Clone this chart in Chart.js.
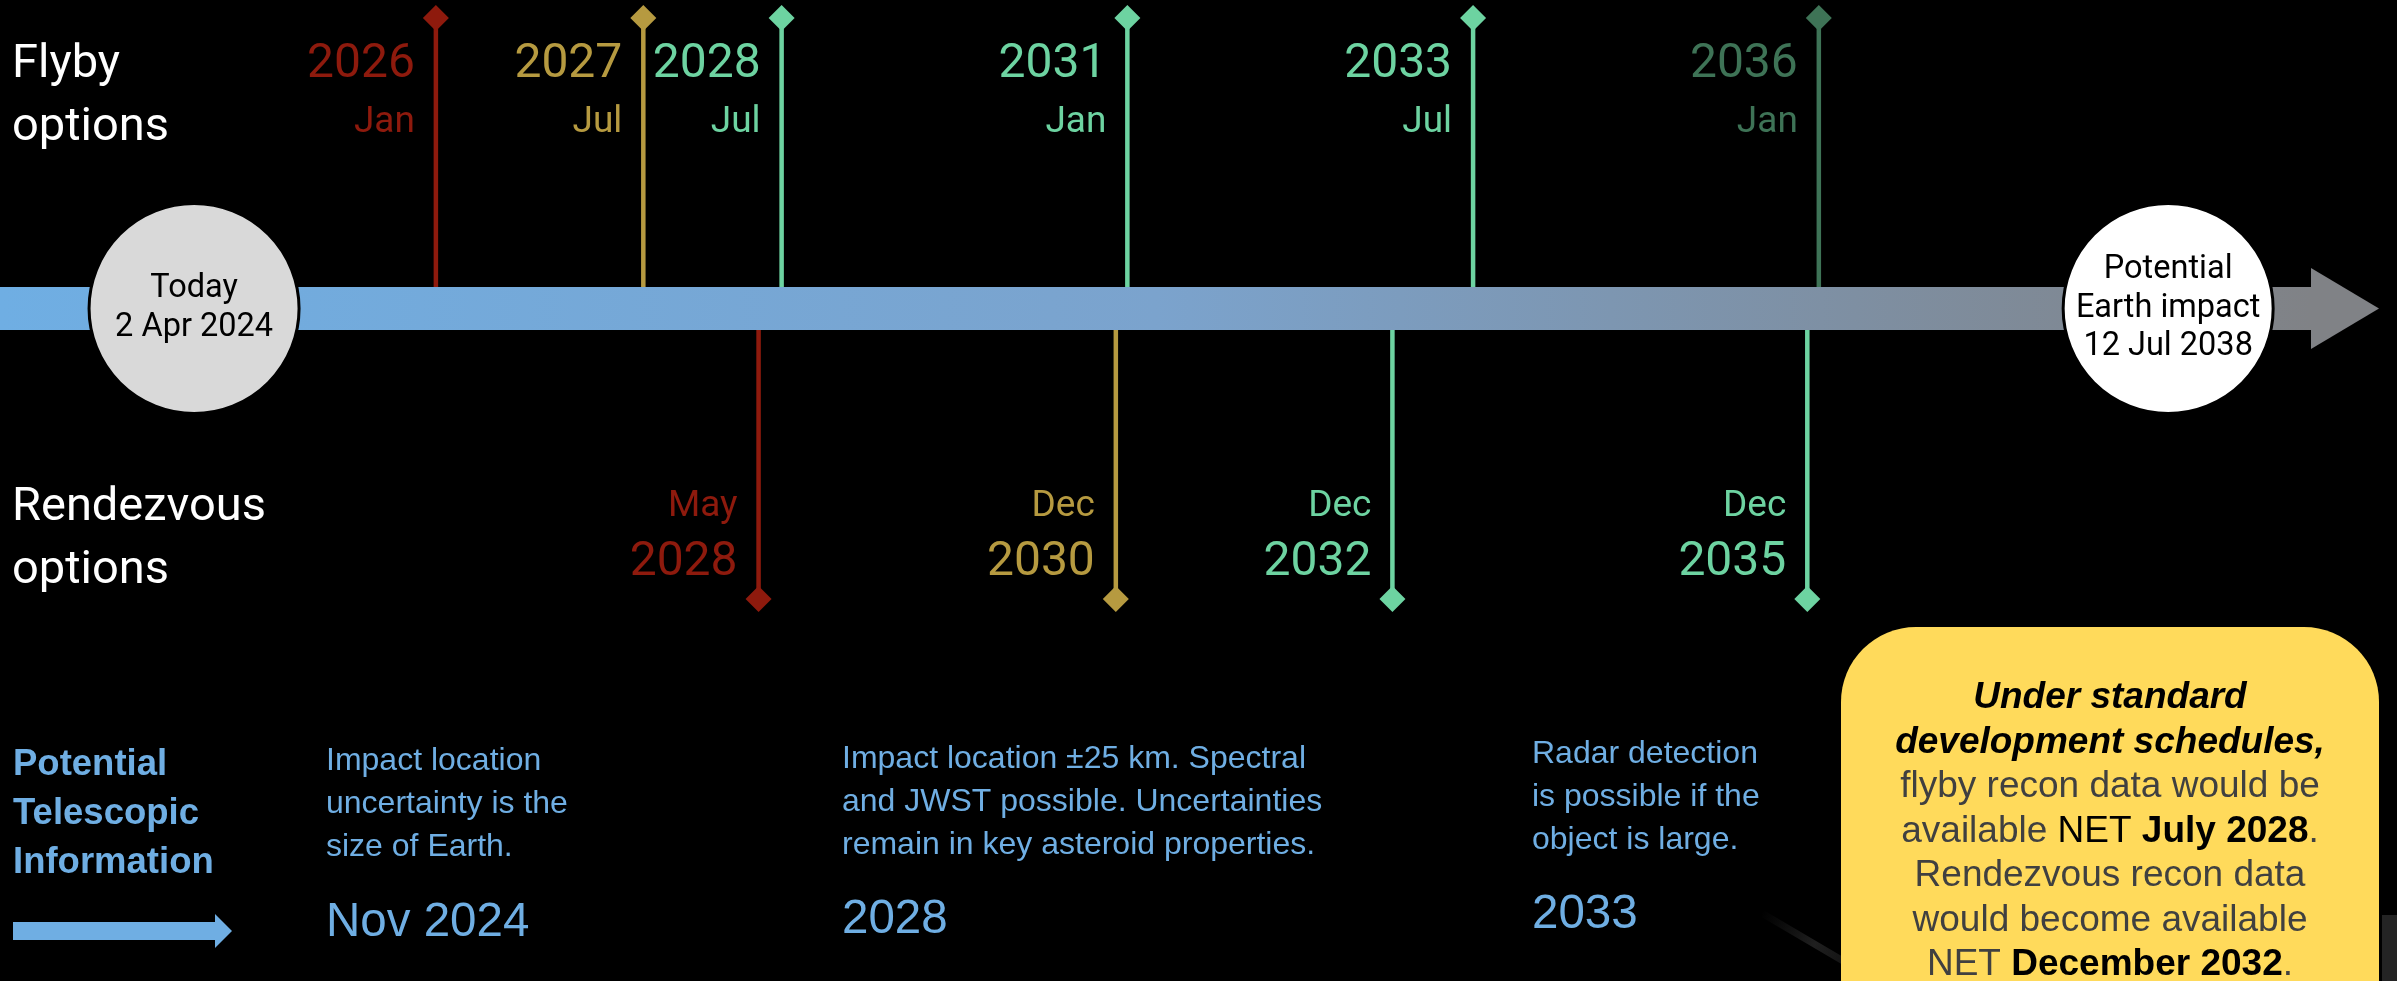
<!DOCTYPE html>
<html>
<head>
<meta charset="utf-8">
<title>Flyby and rendezvous options</title>
<script src="https://cdn.jsdelivr.net/npm/chart.js@4.4.1/dist/chart.umd.min.js"></script>
<style>
  html, body { margin: 0; padding: 0; background: #000; overflow: hidden; }
  #wrap { position: relative; width: 2397px; height: 981px; }
</style>
</head>
<body>
<div id="wrap"><canvas id="timeline"></canvas></div>
<script>
const MONTHS = ['Jan', 'Feb', 'Mar', 'Apr', 'May', 'Jun', 'Jul', 'Aug', 'Sep', 'Oct', 'Nov', 'Dec'];

// flyby launch windows (above the line)
const flybyYears  = [2026, 2027, 2028, 2031, 2033, 2036];
const flybyMonths = ['Jan', 'Jul', 'Jul', 'Jan', 'Jul', 'Jan'];

// rendezvous launch windows (below the line)
const rendezvousYears  = [2028, 2030, 2032, 2035];
const rendezvousMonths = ['May', 'Dec', 'Dec', 'Dec'];

// both ends of the timeline
const milestoneDates  = ['2024-04-02', '2038-07-12'];
const milestoneLabels = [['Today', '2 Apr 2024'], ['Potential', 'Earth impact', '12 Jul 2038']];

// telescope notes along the bottom
const infoTitle = ['Potential', 'Telescopic', 'Information'];
const infoDates = ['Nov 2024', '2028', '2033'];
const infoNotes = [
  ['Impact location', 'uncertainty is the', 'size of Earth.'],
  ['Impact location \u00b125 km. Spectral', 'and JWST possible. Uncertainties', 'remain in key asteroid properties.'],
  ['Radar detection', 'is possible if the', 'object is large.']
];

// colours
const RED = '#8E1A0D', GOLD = '#B69A40', MINT = '#6DD3A1', PINE = '#3E7356';
const BLUE = '#6FAEE3';
const flybyColors = [RED, GOLD, MINT, MINT, MINT, PINE];
const rendezvousColors = [RED, GOLD, MINT, MINT];

function monthToYear(year, mon) {
  return year + MONTHS.indexOf(mon) / 12;
}
function dateToYear(iso) {
  const d = new Date(iso + 'T00:00:00Z');
  const y = d.getUTCFullYear();
  const start = Date.UTC(y, 0, 1), end = Date.UTC(y + 1, 0, 1);
  return y + (d.getTime() - start) / (end - start);
}

// one stem + diamond per launch window, dir = 1 above, -1 below
function stem(year, mon, dir, color) {
  return {
    data: [{x: monthToYear(year, mon), y: 0}, {x: monthToYear(year, mon), y: dir}],
    borderColor: color,
    backgroundColor: color,
    borderWidth: 4.5,
    pointStyle: 'rectRot',
    pointRadius: [0, 13],
    pointHoverRadius: [0, 13],
    pointBorderWidth: 0,
    clip: false,
    eventYear: String(year),
    eventMonth: mon,
    dir: dir
  };
}

const datasets = [];
flybyYears.forEach((y, i) => datasets.push(stem(y, flybyMonths[i], 1, flybyColors[i])));
rendezvousYears.forEach((y, i) => datasets.push(stem(y, rendezvousMonths[i], -1, rendezvousColors[i])));

function drawRuns(ctx, runs, cx, y) {
  let total = 0;
  runs.forEach(r => { ctx.font = r.font; total += ctx.measureText(r.text).width; });
  let x = cx - total / 2;
  ctx.textAlign = 'left';
  runs.forEach(r => {
    ctx.font = r.font;
    ctx.fillStyle = r.color;
    ctx.fillText(r.text, x, y);
    x += ctx.measureText(r.text).width;
  });
}

const timelinePlugin = {
  id: 'timeline',
  beforeDatasetsDraw(chart) {
    const ctx = chart.ctx;
    ctx.save();
    // faint streak from the background artwork
    const g = ctx.createLinearGradient(1760, 915, 1850, 965);
    g.addColorStop(0, 'rgba(60,60,60,0)');
    g.addColorStop(0.6, 'rgba(70,70,70,0.45)');
    g.addColorStop(1, 'rgba(60,60,60,0.3)');
    ctx.strokeStyle = g;
    ctx.lineWidth = 7;
    ctx.lineCap = 'round';
    ctx.beginPath();
    ctx.moveTo(1765, 915);
    ctx.lineTo(1850, 965);
    ctx.stroke();
    ctx.fillStyle = 'rgba(45,45,45,0.8)';
    ctx.fillRect(2382, 915, 15, 66);
    ctx.restore();
  },
  afterDatasetsDraw(chart) {
    const ctx = chart.ctx;
    const xs = chart.scales.x, ys = chart.scales.y;
    const yc = ys.getPixelForValue(0);
    const half = 21.5;
    const tip = chart.width - 18, base = tip - 68;

    ctx.save();
    // main bar with arrow head
    const grad = ctx.createLinearGradient(0, 0, base, 0);
    grad.addColorStop(0, BLUE);
    grad.addColorStop(0.5, '#7BA3CD');
    grad.addColorStop(1, '#808286');
    ctx.fillStyle = grad;
    ctx.fillRect(0, yc - half, base + 1, half * 2);
    ctx.fillStyle = '#808286';
    ctx.beginPath();
    ctx.moveTo(base, yc - 40.5);
    ctx.lineTo(tip, yc);
    ctx.lineTo(base, yc + 40.5);
    ctx.closePath();
    ctx.fill();

    // milestone circles
    const fills = ['#D9D9D9', '#FFFFFF'];
    milestoneDates.forEach((d, i) => {
      const cx = xs.getPixelForValue(dateToYear(d));
      ctx.beginPath();
      ctx.arc(cx, yc, 105, 0, Math.PI * 2);
      ctx.fillStyle = fills[i];
      ctx.fill();
      ctx.lineWidth = 3;
      ctx.strokeStyle = '#000';
      ctx.stroke();
      const lines = milestoneLabels[i];
      const step = 38.5;
      ctx.fillStyle = '#000';
      ctx.font = '32.5px Roboto';
      ctx.textAlign = 'center';
      ctx.textBaseline = 'middle';
      lines.forEach((t, k) => {
        ctx.fillText(t, cx, yc + (k - (lines.length - 1) / 2) * step);
      });
    });
    ctx.restore();
  },
  afterDraw(chart) {
    const ctx = chart.ctx;
    ctx.save();
    ctx.textBaseline = 'alphabetic';

    // stem labels
    chart.data.datasets.forEach((ds, i) => {
      const pt = chart.getDatasetMeta(i).data[1];
      const x = pt.x - 21;
      ctx.fillStyle = ds.borderColor;
      ctx.textAlign = 'right';
      if (ds.dir > 0) {
        ctx.font = '48px Roboto';
        ctx.fillText(ds.eventYear, x, pt.y + 59);
        ctx.font = '37px Roboto';
        ctx.fillText(ds.eventMonth, x, pt.y + 114);
      } else {
        ctx.font = '37px Roboto';
        ctx.fillText(ds.eventMonth, x, pt.y - 83);
        ctx.font = '48px Roboto';
        ctx.fillText(ds.eventYear, x, pt.y - 24);
      }
    });

    // row titles
    ctx.textAlign = 'left';
    ctx.fillStyle = '#FFFFFF';
    ctx.font = '47px Roboto';
    ctx.fillText('Flyby', 12, 77);
    ctx.fillText('options', 12, 140);
    ctx.fillText('Rendezvous', 12, 520);
    ctx.fillText('options', 12, 583);

    // telescope information
    ctx.fillStyle = BLUE;
    ctx.font = 'bold 36.5px "Liberation Sans", Arial, sans-serif';
    infoTitle.forEach((t, k) => ctx.fillText(t, 13, 775 + k * 49));
    ctx.beginPath();
    ctx.moveTo(13, 922);
    ctx.lineTo(215, 922);
    ctx.lineTo(215, 914);
    ctx.lineTo(232, 931);
    ctx.lineTo(215, 948);
    ctx.lineTo(215, 940);
    ctx.lineTo(13, 940);
    ctx.closePath();
    ctx.fill();

    const colX = [326, 842, 1532];
    const colTop = [770, 768, 763];
    const dateBase = [936, 933, 928];
    infoNotes.forEach((lines, c) => {
      ctx.font = '32px "Liberation Sans", Arial, sans-serif';
      lines.forEach((t, k) => ctx.fillText(t, colX[c], colTop[c] + k * 43));
      ctx.font = '47.5px "Liberation Sans", Arial, sans-serif';
      ctx.fillText(infoDates[c], colX[c], dateBase[c]);
    });

    // schedule note box
    const bx = 1841, by = 627, bw = 538, r = 75;
    ctx.fillStyle = '#FFDA5B';
    ctx.beginPath();
    ctx.roundRect(bx, by, bw, chart.height - by + r, r);
    ctx.fill();

    const F = '"Liberation Sans", Arial, sans-serif';
    const reg = '37px ' + F, bold = 'bold 37px ' + F, bi = 'italic bold 37px ' + F;
    const grey = '#404040', black = '#000000';
    const note = [
      [{text: 'Under standard', font: bi, color: black}],
      [{text: 'development schedules,', font: bi, color: black}],
      [{text: 'flyby recon data would be', font: reg, color: grey}],
      [{text: 'available ', font: reg, color: grey}, {text: 'NET ', font: reg, color: black},
       {text: 'July 2028', font: bold, color: black}, {text: '.', font: reg, color: grey}],
      [{text: 'Rendezvous recon data', font: reg, color: grey}],
      [{text: 'would become available', font: reg, color: grey}],
      [{text: 'NET ', font: reg, color: grey}, {text: 'December 2032', font: bold, color: black},
       {text: '.', font: reg, color: grey}]
    ];
    note.forEach((runs, k) => drawRuns(ctx, runs, bx + bw / 2, 708 + k * 44.5));
    ctx.restore();
  }
};

function build() {
  new Chart(document.getElementById('timeline'), {
    type: 'line',
    data: { datasets: datasets },
    options: {
      responsive: true,
      maintainAspectRatio: false,
      animation: false,
      events: [],
      layout: { autoPadding: false, padding: { left: 21, right: 25, top: 0, bottom: 0 } },
      scales: {
        x: { type: 'linear', min: 2023, max: 2040, display: false },
        y: { type: 'linear', min: -2.315, max: 1.062, display: false }
      },
      plugins: {
        legend: { display: false },
        tooltip: { enabled: false }
      }
    },
    plugins: [timelinePlugin]
  });
}

Promise.all([
  document.fonts.load('48px Roboto'),
  document.fonts.load('37px "Liberation Sans"'),
  document.fonts.load('bold 37px "Liberation Sans"'),
  document.fonts.load('italic bold 37px "Liberation Sans"')
]).then(build, build);
</script>
</body>
</html>
